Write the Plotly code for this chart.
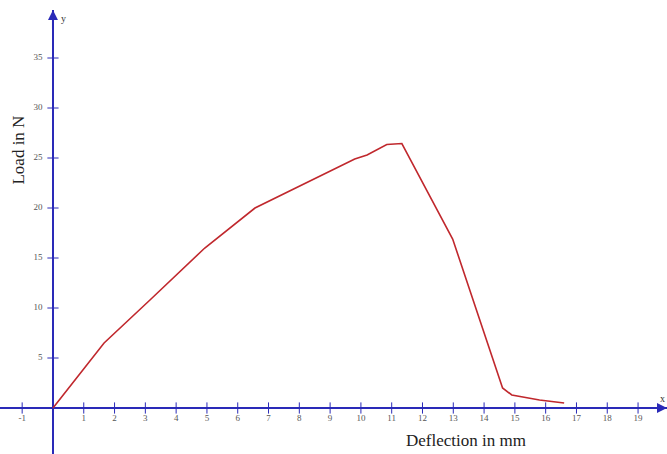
import plotly.graph_objects as go

# Load-deflection test curve
deflection_mm = [0, 1.66, 3.15, 4.93, 6.56, 9.8, 10.2, 10.84, 11.33, 12.98, 14.6, 14.9, 15.8, 16.6]
load_n = [0, 6.5, 10.8, 16.0, 20.0, 24.9, 25.3, 26.35, 26.45, 16.9, 2.0, 1.3, 0.8, 0.5]

x_ticks = [-1, 1, 2, 3, 4, 5, 6, 7, 8, 9, 10, 11, 12, 13, 14, 15, 16, 17, 18, 19]
y_ticks = [5, 10, 15, 20, 25, 30, 35]

X_RANGE = [-1.72, 19.94]
Y_RANGE = [-4.6, 40.8]
Y_ARROW_TOP = 39.8
AXIS_BLUE = "#2a2ab8"
SERIF = "Liberation Serif, Times New Roman, serif"

fig = go.Figure()

# x tick marks and labels along y = 0
fig.add_trace(go.Scatter(
    x=x_ticks, y=[0] * len(x_ticks), mode="markers+text",
    marker=dict(symbol="line-ns-open", size=8, color=AXIS_BLUE,
                line=dict(color=AXIS_BLUE, width=1)),
    text=[str(t) for t in x_ticks], textposition="bottom center",
    textfont=dict(family=SERIF, size=9, color="#555555"),
    hoverinfo="skip", showlegend=False, cliponaxis=False,
))

# y tick marks and labels along x = 0
fig.add_trace(go.Scatter(
    x=[0] * len(y_ticks), y=y_ticks, mode="markers+text",
    marker=dict(symbol="line-ew-open", size=8, color=AXIS_BLUE,
                line=dict(color=AXIS_BLUE, width=1)),
    text=[str(t) + "  " for t in y_ticks], textposition="middle left",
    textfont=dict(family=SERIF, size=9, color="#555555"),
    hoverinfo="skip", showlegend=False, cliponaxis=False,
))

# measured curve
fig.add_trace(go.Scatter(
    x=deflection_mm, y=load_n, mode="lines",
    line=dict(color="#c0282d", width=1.6),
    showlegend=False,
))

# axis arrow heads
fig.add_annotation(x=X_RANGE[1], y=0, ax=X_RANGE[1] - 0.6, ay=0,
                   xref="x", yref="y", axref="x", ayref="y",
                   showarrow=True, arrowhead=2, arrowsize=1, arrowwidth=2,
                   arrowcolor=AXIS_BLUE, text="")
fig.add_annotation(x=0, y=Y_ARROW_TOP, ax=0, ay=Y_ARROW_TOP - 2,
                   xref="x", yref="y", axref="x", ayref="y",
                   showarrow=True, arrowhead=2, arrowsize=1, arrowwidth=2,
                   arrowcolor=AXIS_BLUE, text="")
fig.add_shape(type="line", x0=0, x1=0, y0=Y_ARROW_TOP, y1=Y_RANGE[1],
              line=dict(color="white", width=4))
fig.add_annotation(x=19.8, y=1.0, text="x", showarrow=False,
                   font=dict(family=SERIF, size=10, color="#333333"))
fig.add_annotation(x=0.35, y=39.0, text="y", showarrow=False,
                   font=dict(family=SERIF, size=10, color="#333333"))

# axis titles
fig.add_annotation(x=13.4, y=-3.2, text="Deflection in mm", showarrow=False,
                   font=dict(family=SERIF, size=17, color="#222222"))
fig.add_annotation(x=-1.15, y=25.8, text="Load in N", showarrow=False, textangle=-90,
                   font=dict(family=SERIF, size=17, color="#222222"))

fig.update_xaxes(range=X_RANGE, showgrid=False, showticklabels=False, ticks="",
                 zeroline=True, zerolinecolor=AXIS_BLUE, zerolinewidth=2)
fig.update_yaxes(range=Y_RANGE, showgrid=False, showticklabels=False, ticks="",
                 zeroline=True, zerolinecolor=AXIS_BLUE, zerolinewidth=2)

fig.update_layout(
    width=667, height=454,
    margin=dict(l=0, r=0, t=0, b=0),
    paper_bgcolor="white", plot_bgcolor="white",
)

fig.write_html("out.html")
